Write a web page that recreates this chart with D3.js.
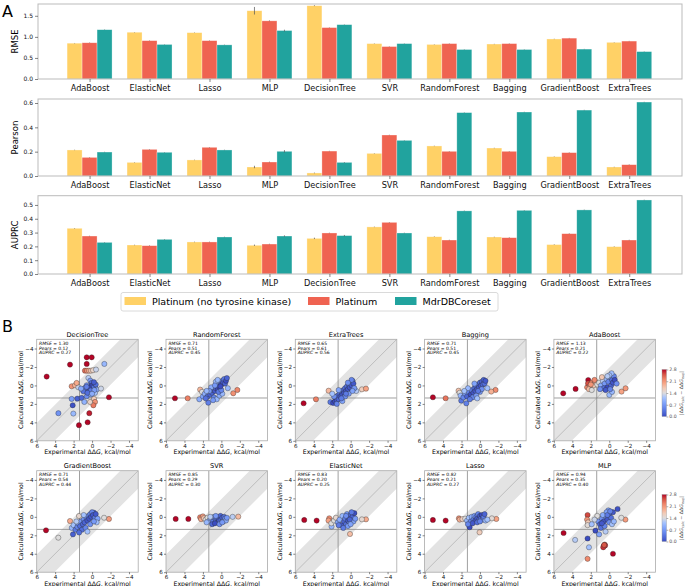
<!DOCTYPE html>
<meta charset="utf-8">
<head>
<style>
  body { margin: 0; background: #fff; }
  svg { display: block; font-family: "DejaVu Sans", sans-serif; }
</style>
</head>
<body>
<script src="https://d3js.org/d3.v7.min.js"></script>
<script>
// ---- panel A data ----
const models = ["AdaBoost", "ElasticNet", "Lasso", "MLP", "DecisionTree", "SVR", "RandomForest", "Bagging", "GradientBoost", "ExtraTrees"];
const datasets = ["Platinum (no tyrosine kinase)", "Platinum", "MdrDBCoreset"];
const colors = ["#ffd166", "#ef6351", "#21a39e"];

const rmseNoTK = [0.85, 1.11, 1.10, 1.62, 1.74, 0.84, 0.82, 0.83, 0.95, 0.87];
const rmsePlat = [0.86, 0.91, 0.91, 1.38, 1.22, 0.77, 0.84, 0.84, 0.97, 0.90];
const rmseMdr  = [1.17, 0.82, 0.81, 1.15, 1.29, 0.84, 0.70, 0.70, 0.71, 0.65];
const rmseErrNoTK = [0.005, 0.005, 0.005, 0.09, 0.01, 0.005, 0.005, 0.005, 0.005, 0.005];
const rmseErrPlat = [0.005, 0.005, 0.005, 0.01, 0.005, 0.005, 0.005, 0.005, 0.005, 0.005];
const rmseErrMdr  = [0.005, 0.005, 0.005, 0.02, 0.005, 0.005, 0.005, 0.005, 0.005, 0.005];

const pearNoTK = [0.214, 0.112, 0.132, 0.074, 0.025, 0.186, 0.247, 0.230, 0.159, 0.074];
const pearPlat = [0.153, 0.219, 0.236, 0.115, 0.205, 0.337, 0.203, 0.203, 0.192, 0.093];
const pearMdr  = [0.197, 0.195, 0.214, 0.203, 0.112, 0.293, 0.521, 0.526, 0.542, 0.608];
const pearErrNoTK = [0.002, 0.002, 0.002, 0.01, 0.003, 0.002, 0.002, 0.002, 0.002, 0.002];
const pearErrPlat = [0.002, 0.002, 0.002, 0.003, 0.002, 0.002, 0.002, 0.002, 0.002, 0.002];
const pearErrMdr  = [0.002, 0.002, 0.002, 0.01, 0.003, 0.002, 0.002, 0.002, 0.002, 0.002];

const auprcNoTK = [0.331, 0.210, 0.232, 0.208, 0.258, 0.341, 0.270, 0.268, 0.213, 0.198];
const auprcPlat = [0.275, 0.205, 0.232, 0.217, 0.297, 0.374, 0.246, 0.263, 0.292, 0.246];
const auprcMdr  = [0.229, 0.251, 0.268, 0.275, 0.278, 0.297, 0.457, 0.461, 0.464, 0.536];
const auprcErrNoTK = [0.002, 0.002, 0.002, 0.005, 0.005, 0.002, 0.002, 0.002, 0.002, 0.002];
const auprcErrPlat = [0.002, 0.002, 0.002, 0.002, 0.002, 0.002, 0.002, 0.002, 0.002, 0.002];
const auprcErrMdr  = [0.002, 0.002, 0.002, 0.005, 0.005, 0.002, 0.002, 0.002, 0.002, 0.002];

const rmseTicks = [0, 0.5, 1.0, 1.5];
const pearTicks = [0, 0.2, 0.4, 0.6];
const auprcTicks = [0, 0.1, 0.2, 0.3, 0.4, 0.5];

// ---- panel B data: [experimental ddG, calculated ddG] ----
const ptsDecisionTree = [[4.92,-0.96],[2.39,-2.26],[0.58,-3.05],[0.04,-3.05],[0.58,-2.33],[-1.83,1.28],[0.30,3.01],[0.48,3.99],[1.42,4.31],
  [0.77,-1.6],[0.55,-1.6],[0.33,-1.6],[0.12,-1.6],[-0.1,-1.65],[-0.43,-1.72],[-1.33,-2.33],
  [0.4,-0.81],[0.19,-0.52],[0.04,-0.27],[-0.14,-0.09],[0.22,0.09],[0.58,-0.02],[-0.32,0.2],[0.04,0.38],[0.4,0.56],[-0.14,0.63],[-0.5,0.45],[0.77,0.27],[0.95,0.63],[0.3,0.81],[-0.32,0.81],[-0.97,0.34],
  [2.21,0.09],[1.85,-0.02],[1.49,0.2],[1.2,0.34],[1.67,-0.27],
  [2.21,1.46],[1.6,1.43],[1.13,1.35],[0.58,1.17],[0.12,0.99],[-0.21,1.46],[-0.32,1.79],[-0.14,2.15],[0.22,1.79],[0.84,1.79],[2.1,2.15],[3.65,3.01],[2.03,3.05],
  [0.1,0.1],[-0.05,0.3],[0.3,0.3],[0.15,0.55],[-0.25,0.5],[0.5,0.8],[0.0,0.9],[-0.4,-0.1],[0.6,0.15],[-0.2,-0.35]];
const ptsRandomForest = [[5.03,1.39],[3.65,1.39],[2.3,0.45],[2.1,0.7],[2.39,1.5],[2.0,1.2],[1.8,0.9],[1.42,1.87],
  [1.5,1.2],[1.2,1.0],[1.0,0.8],[0.9,0.5],[0.7,0.6],[0.6,0.3],[0.5,0.1],[0.4,0.4],[0.3,-0.1],[0.2,0.2],[0.1,-0.3],[0.0,-0.1],[-0.1,-0.5],[-0.2,-0.3],[-0.3,-0.7],[-0.4,-0.2],[-0.5,-0.5],
  [0.8,1.3],[0.5,1.5],[0.2,1.1],[-0.1,0.9],[1.1,0.2],[1.3,0.6],[0.9,1.6],[0.3,0.7],[0.6,-0.4],[-0.6,-0.8],[0.0,0.5],[1.7,1.4],[1.6,0.6],[-1.29,0.85],[-1.73,0.49],[-0.7,0.3],[0.4,-0.6],[0.1,0.1],[0.7,0.0]];
const ptsExtraTrees = [[5.1,1.93],[3.76,1.5],[2.39,0.57],[-1.22,0.42],[-1.66,0.35],[-0.6,0.6],
  [2.2,1.8],[1.9,1.9],[1.7,1.7],[1.6,1.3],[1.5,1.6],[1.4,1.1],[1.3,1.5],[1.2,0.9],[1.1,1.2],[1.0,0.7],[0.9,1.0],[0.8,0.5],[0.7,0.8],[0.6,0.3],[0.5,0.6],[0.4,0.1],[0.3,0.4],[0.2,-0.1],[0.1,0.2],[0.0,-0.3],[-0.1,0.0],[-0.2,-0.5],[-0.3,-0.2],[-0.4,0.3],
  [1.8,1.2],[0.9,1.7],[1.5,2.0],[0.2,0.9],[-0.2,0.6],[0.6,1.2],[1.3,0.5],[2.0,0.9],[-0.1,-0.6],[0.3,-0.3],[1.0,1.4],[0.5,0.9]];
const ptsBagging = [[5.1,1.28],[3.72,1.39],[2.32,0.57],[2.2,0.8],[2.03,1.65],[1.48,1.94],[-1.69,0.49],[-1.22,0.67],
  [2.1,1.1],[1.8,1.3],[1.6,0.9],[1.4,1.2],[1.2,0.7],[1.0,1.0],[0.9,0.5],[0.7,0.8],[0.6,0.3],[0.5,0.6],[0.4,0.1],[0.3,0.4],[0.2,-0.1],[0.1,0.2],[0.0,-0.3],[-0.1,0.0],[-0.2,-0.4],[-0.3,-0.1],[-0.4,-0.6],[-0.5,-0.2],
  [0.8,1.3],[0.4,1.1],[0.0,0.7],[-0.2,0.4],[1.3,0.3],[1.1,1.5],[0.6,-0.2],[-0.6,-0.5],[-0.8,0.3],[0.2,0.6],[1.7,0.6],[0.3,1.4]];
const ptsAdaBoost = [[4.99,0.85],[3.65,0.38],[2.28,-0.59],
  [2.4,0.2],[2.3,-0.23],[2.1,0.1],[1.9,-0.3],[1.7,0.0],[1.5,-0.4],[1.3,-0.1],[2.2,0.4],[1.9,0.5],[1.6,-0.6],[2.0,-0.1],
  [1.1,-0.3],[0.9,0.0],[0.7,-0.5],[0.5,-0.2],[0.3,-0.7],[0.1,-0.4],[-0.1,-0.9],[-0.3,-0.6],[-0.5,-1.0],[-0.25,-1.32],[0.0,-1.1],[0.6,0.3],[0.2,0.2],[-0.2,0.0],[-0.4,-0.3],[0.4,0.5],[0.0,1.03],[-0.3,0.7],[0.8,-0.9],[1.0,0.4],[-0.6,-0.6],[-0.8,-0.2],[-1.33,0.67],[-1.77,0.31],[0.2,-1.0],[-0.1,0.4]];
const ptsGradientBoost = [[4.99,1.46],[3.66,2.26],[2.07,1.9],[2.39,0.45],[1.42,-0.09],[-1.83,0.23],[-1.3,0.1],[-0.2,-0.45],
  [2.2,1.2],[2.0,0.9],[1.8,1.4],[1.6,1.1],[1.5,0.7],[1.3,1.0],[1.2,0.5],[1.0,0.8],[0.9,0.3],[0.8,0.6],[0.6,0.1],[0.5,0.4],[0.4,-0.1],[0.3,0.2],[0.2,-0.3],[0.1,0.0],[0.0,-0.5],[-0.1,-0.2],[-0.3,0.1],[-0.4,-0.3],[-0.6,0.2],
  [1.7,0.5],[1.1,1.4],[0.7,1.2],[0.2,0.8],[1.4,1.7],[0.5,1.6],[-0.5,0.6],[0.9,-0.2],[-0.2,0.5]];
const ptsSVR = [[4.95,0.23],[3.58,0.23],[2.3,0.05],[2.2,0.25],[2.0,-0.05],[1.9,0.15],[-1.83,-0.02],[-1.22,0.0],
  [1.7,0.3],[1.5,0.1],[1.3,0.4],[1.1,0.2],[0.9,0.5],[0.8,0.0],[0.6,0.3],[0.5,0.1],[0.4,0.6],[0.3,0.2],[0.2,0.4],[0.1,-0.1],[0.0,0.3],[-0.1,0.1],[-0.2,0.5],[-0.3,0.0],[-0.4,0.2],[-0.5,0.4],
  [1.0,0.8],[0.7,0.7],[0.2,0.8],[1.6,0.6],[-0.6,0.1],[0.6,-0.1],[1.2,0.0],[-0.1,0.6]];
const ptsElasticNet = [[5.03,0.34],[3.69,0.41],[2.32,0.16],[2.4,0.4],[2.07,1.06],[2.1,0.7],[0.07,1.86],[-1.66,0.27],[-1.22,0.27],
  [1.8,0.4],[1.6,0.1],[1.4,0.6],[1.2,0.3],[1.0,0.9],[0.9,-0.1],[0.7,0.5],[0.6,0.2],[0.5,0.8],[0.4,-0.3],[0.3,0.4],[0.2,0.1],[0.1,0.6],[0.0,-0.2],[-0.1,0.3],[-0.2,0.0],[-0.3,0.5],[-0.4,-0.4],
  [0.8,1.2],[0.3,1.0],[-0.1,-0.5],[0.5,-0.1],[1.3,0.9],[-0.5,0.2],[0.1,0.3],[0.0,0.8]];
const ptsLasso = [[5.1,0.34],[3.72,0.41],[2.28,0.16],[2.2,0.3],[1.9,0.25],[1.12,1.13],[0.04,1.68],[-1.77,0.23],[-1.29,0.16],
  [1.6,0.2],[1.4,0.4],[1.2,0.1],[1.0,0.5],[0.9,0.0],[0.7,0.3],[0.6,-0.1],[0.5,0.4],[0.4,0.0],[0.3,0.2],[0.2,-0.3],[0.1,0.3],[0.0,-0.1],[-0.1,0.2],[-0.2,-0.2],[-0.3,0.3],[-0.4,0.0],[-0.5,-0.3],
  [0.8,0.7],[0.3,0.6],[-0.6,0.4],[1.3,0.8],[0.0,0.5],[-0.8,0.3]];
const ptsMLP = [[4.95,1.75],[3.7,2.5],[2.35,2.35],[2.35,4.55],[2.2,3.3],[0.5,3.0],[0.6,3.15],[0.45,3.1],[0.65,3.3],[0.55,3.05],[-0.4,4.0],[-0.9,-0.85],[-1.75,0.3],[-1.3,0.1],[2.35,-0.2],[2.4,0.3],[2.3,0.6],[2.35,0.9],
  [1.5,1.5],[1.2,0.5],[1.0,0.8],[0.8,0.2],[0.6,0.5],[0.4,-0.1],[0.2,0.3],[0.0,-0.3],[-0.2,0.1],[-0.4,-0.5],[0.1,-0.7],[0.3,-0.5],[0.7,-0.2],[1.3,-0.1],[1.6,0.3],[0.9,1.2],[0.5,1.0],[0.0,0.6],[-0.3,0.8],[-0.5,0.5],[1.1,1.9],[0.4,1.6],[0.2,-0.2],[-0.1,-0.6],[0.8,0.7],[1.9,0.8]];

const scatterNames = ["DecisionTree", "RandomForest", "ExtraTrees", "Bagging", "AdaBoost", "GradientBoost", "SVR", "ElasticNet", "Lasso", "MLP"];
const scatterPts = [ptsDecisionTree, ptsRandomForest, ptsExtraTrees, ptsBagging, ptsAdaBoost, ptsGradientBoost, ptsSVR, ptsElasticNet, ptsLasso, ptsMLP];
const scatterRMSE = ["1.30", "0.71", "0.65", "0.71", "1.13", "0.71", "0.85", "0.83", "0.82", "0.94"];
const scatterPears = ["0.12", "0.51", "0.61", "0.51", "0.21", "0.54", "0.29", "0.20", "0.21", "0.35"];
const scatterAUPRC = ["0.27", "0.45", "0.56", "0.45", "0.22", "0.44", "0.30", "0.25", "0.27", "0.40"];
const axisTicks = [6, 4, 2, 0, -2, -4];
const cbarTicks = [0.0, 0.7, 1.4, 2.1, 2.8];
const threshold = 1.36;

// coolwarm colour map
const coolwarmStops = ["#3b4cc0", "#516ddb", "#6a8bef", "#84a7fc", "#a5c3fe", "#dddcdc", "#f2cbb7", "#f7a889", "#ee8468", "#d65244", "#b40426"];
const cmap = d3.scaleLinear().domain(d3.range(11).map(i => i / 10)).range(coolwarmStops).clamp(true);
const colorOf = v => cmap(Math.min(v, 2.8) / 2.8);

const svg = d3.select("body").append("svg").attr("width", 685).attr("height", 586);

function styleAxis(g, fs) {
  g.select(".domain").remove();
  g.selectAll(".tick line").attr("stroke", "#333").attr("stroke-width", 0.6);
  g.selectAll(".tick text").attr("font-size", fs).attr("fill", "#111").attr("font-family", "DejaVu Sans");
}

// ---------------- panel A ----------------
svg.append("text").attr("x", 2).attr("y", 17).attr("font-size", 16).text("A");
svg.append("text").attr("x", 2).attr("y", 332).attr("font-size", 16).text("B");

const barPanels = [
  { label: "RMSE", series: [rmseNoTK, rmsePlat, rmseMdr], errs: [rmseErrNoTK, rmseErrPlat, rmseErrMdr], top: 4, bottom: 79, max: 1.78, ticks: rmseTicks },
  { label: "Pearson", series: [pearNoTK, pearPlat, pearMdr], errs: [pearErrNoTK, pearErrPlat, pearErrMdr], top: 99, bottom: 176, max: 0.633, ticks: pearTicks },
  { label: "AUPRC", series: [auprcNoTK, auprcPlat, auprcMdr], errs: [auprcErrNoTK, auprcErrPlat, auprcErrMdr], top: 195.7, bottom: 274, max: 0.567, ticks: auprcTicks }
];
const xBar = d3.scaleLinear().domain([-0.86, 9.88]).range([38, 682]);
const bw = xBar(0.25) - xBar(0);

barPanels.forEach(p => {
  const y = d3.scaleLinear().domain([0, p.max]).range([p.bottom, p.top]);
  const g = svg.append("g");
  p.series.forEach((vals, s) => {
    g.selectAll(null).data(vals).join("rect")
      .attr("x", (d, i) => xBar(i + (s - 1) * 0.25) - bw / 2)
      .attr("y", d => y(d))
      .attr("width", bw)
      .attr("height", d => y(0) - y(d))
      .attr("fill", colors[s])
      .attr("stroke", "#fff").attr("stroke-opacity", 0.5).attr("stroke-width", 0.6);
  });
  p.series.forEach((vals, s) => {
    g.selectAll(null).data(vals).join("line")
      .attr("x1", (d, i) => xBar(i + (s - 1) * 0.25))
      .attr("x2", (d, i) => xBar(i + (s - 1) * 0.25))
      .attr("y1", (d, i) => y(d - p.errs[s][i]))
      .attr("y2", (d, i) => y(d + p.errs[s][i]))
      .attr("stroke", "#555").attr("stroke-opacity", 0.8).attr("stroke-width", 0.9);
  });
  g.append("rect").attr("x", 38).attr("y", p.top).attr("width", 644).attr("height", p.bottom - p.top)
    .attr("fill", "none").attr("stroke", "#bbb").attr("stroke-width", 1);

  const ay = g.append("g").attr("transform", "translate(38,0)")
    .call(d3.axisLeft(y).tickValues(p.ticks).tickSize(3).tickPadding(2).tickFormat(d3.format(".1f")));
  styleAxis(ay, 6);
  const ax = g.append("g").attr("transform", `translate(0,${p.bottom})`)
    .call(d3.axisBottom(xBar).tickValues(d3.range(models.length)).tickSize(3).tickPadding(3).tickFormat(i => models[i]));
  styleAxis(ax, 8.2);

  g.append("text")
    .attr("transform", `translate(18,${(p.top + p.bottom) / 2}) rotate(-90)`)
    .attr("text-anchor", "middle").attr("font-size", 8.5).text(p.label);
});

// legend
const lg = svg.append("g");
lg.append("rect").attr("x", 121).attr("y", 292.5).attr("width", 377).attr("height", 18.5).attr("rx", 2)
  .attr("fill", "#fff").attr("stroke", "#d0d0d0").attr("stroke-width", 0.8);
const legX = [124.5, 308, 395];
datasets.forEach((name, i) => {
  lg.append("rect").attr("x", legX[i]).attr("y", 297).attr("width", 21.5).attr("height", 8).attr("fill", colors[i]);
  lg.append("text").attr("x", legX[i] + 27.5).attr("y", 305).attr("font-size", 9.5).text(name);
});

// ---------------- panel B ----------------
const S = 101.5;
const rowTops = [339.3, 470.7];
const defs = svg.append("defs");

scatterNames.forEach((name, i) => {
  const col = i % 5, row = Math.floor(i / 5);
  const L = 36.7 + col * 129.3, T = rowTops[row];
  const x = d3.scaleLinear().domain([6, -5]).range([L, L + S]);
  const y = d3.scaleLinear().domain([-5, 6]).range([T, T + S]);
  const g = svg.append("g");

  defs.append("clipPath").attr("id", "clip" + i)
    .append("rect").attr("x", L).attr("y", T).attr("width", S).attr("height", S);
  const inner = g.append("g").attr("clip-path", `url(#clip${i})`);

  const w = threshold * Math.SQRT2;
  const band = [[7, 7 + w], [-6, -6 + w], [-6, -6 - w], [7, 7 - w]];
  inner.append("path").attr("d", d3.line().x(d => x(d[0])).y(d => y(d[1]))(band) + "Z")
    .attr("fill", "#e3e3e3");
  inner.append("line").attr("x1", x(6)).attr("y1", y(6)).attr("x2", x(-5)).attr("y2", y(-5))
    .attr("stroke", "#999").attr("stroke-width", 0.5);
  inner.append("line").attr("x1", x(threshold)).attr("x2", x(threshold)).attr("y1", T).attr("y2", T + S)
    .attr("stroke", "#888").attr("stroke-width", 0.8);
  inner.append("line").attr("x1", L).attr("x2", L + S).attr("y1", y(threshold)).attr("y2", y(threshold))
    .attr("stroke", "#888").attr("stroke-width", 0.8);

  inner.selectAll("circle").data(scatterPts[i]).join("circle")
    .attr("cx", d => x(d[0])).attr("cy", d => y(d[1])).attr("r", 2.6)
    .attr("fill", d => colorOf(Math.abs(d[1] - d[0])))
    .attr("stroke", "#222").attr("stroke-width", 0.35);

  g.append("rect").attr("x", L).attr("y", T).attr("width", S).attr("height", S)
    .attr("fill", "none").attr("stroke", "#aaa").attr("stroke-width", 0.8);

  const ax = g.append("g").attr("transform", `translate(0,${T + S})`)
    .call(d3.axisBottom(x).tickValues(axisTicks).tickSize(2).tickPadding(1.2).tickFormat(d3.format("d")));
  styleAxis(ax, 5.6);
  const ay = g.append("g").attr("transform", `translate(${L},0)`)
    .call(d3.axisLeft(y).tickValues(axisTicks).tickSize(2).tickPadding(1.2).tickFormat(d3.format("d")));
  styleAxis(ay, 5.6);

  g.append("text").attr("x", L + S / 2).attr("y", T - 2.6).attr("text-anchor", "middle")
    .attr("font-size", 6.6).text(name);

  const xl = g.append("text").attr("x", L + S / 2).attr("y", T + S + 13.6).attr("text-anchor", "middle").attr("font-size", 6.2);
  xl.append("tspan").text("Experimental ΔΔ");
  xl.append("tspan").attr("font-style", "italic").text("G");
  xl.append("tspan").text(", kcal/mol");

  const yl = g.append("text").attr("transform", `translate(${L - 13.6},${T + S / 2}) rotate(-90)`)
    .attr("text-anchor", "middle").attr("font-size", 6.2);
  yl.append("tspan").text("Calculated ΔΔ");
  yl.append("tspan").attr("font-style", "italic").text("G");
  yl.append("tspan").text(", kcal/mol");

  const metrics = [["RMSE", scatterRMSE[i]], ["Pears", scatterPears[i]], ["AUPRC", scatterAUPRC[i]]];
  metrics.forEach((m, k) => {
    const t = g.append("text").attr("x", L + 2.4).attr("y", T + 5.6 + k * 4.7).attr("font-size", 4.5);
    t.append("tspan").attr("font-style", "italic").text(m[0]);
    t.append("tspan").text(" = " + m[1]);
  });
});

// colour bars
const grad = defs.append("linearGradient").attr("id", "cw").attr("x1", 0).attr("x2", 0).attr("y1", 1).attr("y2", 0);
coolwarmStops.forEach((c, k) => grad.append("stop").attr("offset", k / 10).attr("stop-color", c));
[369.5, 494.5].forEach(top => {
  const h = 47;
  const cy = d3.scaleLinear().domain([0, 2.8]).range([top + h, top]);
  const g = svg.append("g");
  g.append("rect").attr("x", 662).attr("y", top).attr("width", 4.5).attr("height", h)
    .attr("fill", "url(#cw)").attr("stroke", "#999").attr("stroke-width", 0.4);
  const ac = g.append("g").attr("transform", "translate(666.5,0)")
    .call(d3.axisRight(cy).tickValues(cbarTicks).tickSize(1.8).tickPadding(1).tickFormat(d3.format(".1f")));
  styleAxis(ac, 4.6);
  ac.selectAll(".tick text").attr("fill", "#555");
  ac.selectAll(".tick line").attr("stroke", "#777");
  const lt = g.append("text").attr("transform", `translate(682.5,${top + h / 2}) rotate(-90)`)
    .attr("text-anchor", "middle").attr("font-size", 4.8).attr("fill", "#555");
  lt.append("tspan").text("|ΔΔ");
  lt.append("tspan").attr("font-style", "italic").text("G");
  lt.append("tspan").attr("font-size", 3.4).attr("dy", 1).text("calc");
  lt.append("tspan").attr("dy", -1).text(" − ΔΔ");
  lt.append("tspan").attr("font-style", "italic").text("G");
  lt.append("tspan").attr("font-size", 3.4).attr("dy", 1).text("exp");
  lt.append("tspan").attr("dy", -1).text("|");
});
</script>
</body>
